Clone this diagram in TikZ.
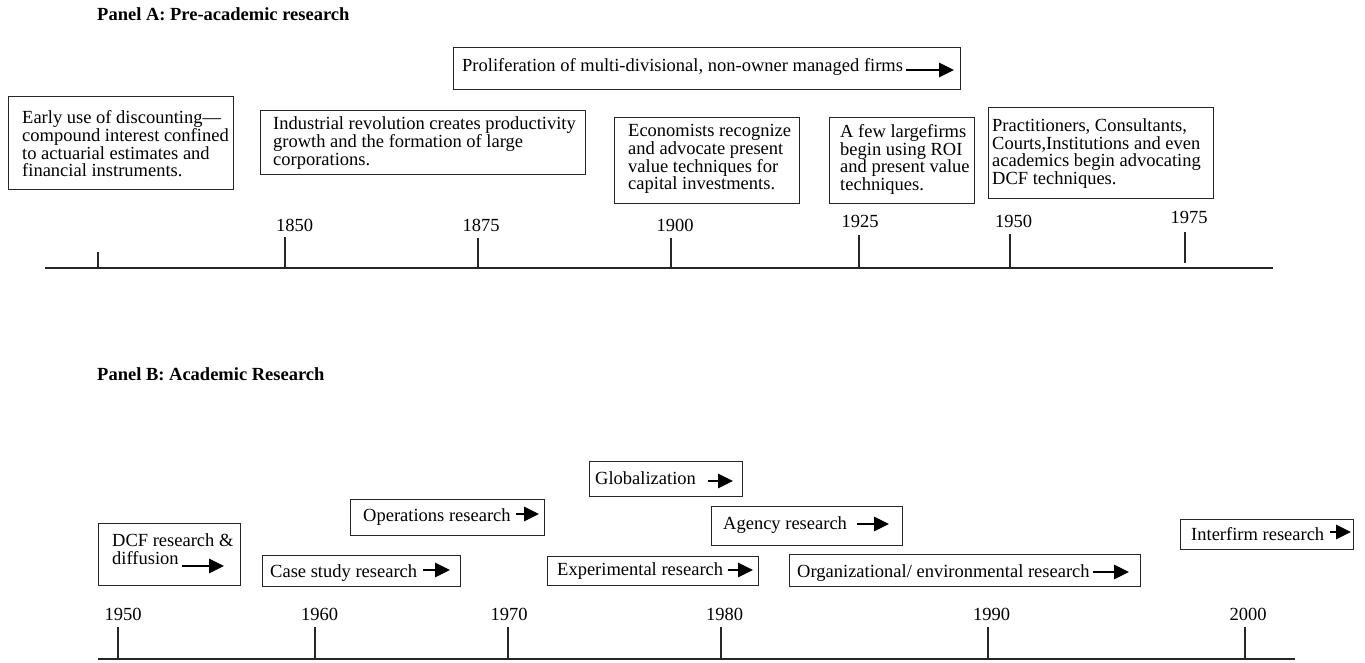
\documentclass[tikz,border=0pt]{standalone}
\usepackage{fontspec}
\setmainfont{Liberation Serif}
\usetikzlibrary{arrows.meta}
\begin{document}
\begin{tikzpicture}[x=1pt,y=-1pt,
  frame/.style={draw=black!85, line width=1.1pt, rectangle, inner sep=0pt, anchor=north west},
  txt/.style={inner sep=0pt, align=left, anchor=north west, font=\fontsize{18.5}{17.7}\selectfont},
  line/.style={inner sep=0pt, anchor=base west, font=\fontsize{18.5}{17.7}\selectfont},
  yr/.style={inner sep=0pt, anchor=base, font=\fontsize{18.5}{17.7}\selectfont},
  ttl/.style={inner sep=0pt, anchor=base west, font=\fontsize{18.5}{18}\selectfont\bfseries},
  axis/.style={draw=black!85, line width=1.3pt},
  tick/.style={draw=black!85, line width=1.1pt},
  goes/.style={draw=black, line width=1.4pt, -{Triangle[length=15pt,width=14.5pt]}}
]
\useasboundingbox (0,0) rectangle (1365,663);

% ---------------- Panel A ----------------
\node[ttl] (ttlA) at (97,21) {Panel A: Pre-academic research};

\node[frame, minimum width=225pt, minimum height=93pt] (a1) at (8,96) {};
\node[txt] (a1t) at (22,110.6) {Early use of discounting---\\compound interest confined\\to actuarial estimates and\\financial instruments.};

\node[frame, minimum width=325pt, minimum height=64pt] (a2) at (260,110) {};
\node[txt] (a2t) at (273,116.6) {Industrial revolution creates productivity\\growth and the formation of large\\corporations.};

\node[frame, minimum width=507pt, minimum height=42pt] (prolif) at (453,47) {};
\node[line] (prolift) at (462,72) {Proliferation of multi-divisional, non-owner managed firms};
\draw[goes] (906,70) -- (954,70);

\node[frame, minimum width=185pt, minimum height=86pt] (econ) at (614,117) {};
\node[txt] (econt) at (628,124.3) {Economists recognize\\and advocate present\\value techniques for\\capital investments.};

\node[frame, minimum width=145pt, minimum height=86pt] (few) at (829,117) {};
\node[txt] (fewt) at (840,124.3) {A few largefirms\\begin using ROI\\and present value\\techniques.};

\node[frame, minimum width=225pt, minimum height=91pt] (pract) at (988,107) {};
\node[txt] (practt) at (992,118.3) {Practitioners, Consultants,\\Courts,Institutions and even\\academics begin advocating\\DCF techniques.};

% timeline A
\coordinate (aL) at (45,268);
\coordinate (aR) at (1273,268);
\draw[axis] (aL) -- (aR);
\draw[tick] (98,252) -- (98,268);
\foreach \x/\t in {285/237, 478/238, 671/238, 859/235, 1010/234}
  \draw[tick] (\x,\t) -- (\x,268);
\draw[tick] (1185,232) -- (1185,263);
\node[yr] (y1850) at (294.5,231) {1850};
\node[yr] (y1875) at (481,232) {1875};
\node[yr] (y1900) at (675,232) {1900};
\node[yr] (y1925) at (860,228) {1925};
\node[yr] (y1950a) at (1013.5,227.5) {1950};
\node[yr] (y1975) at (1189,223) {1975};

% ---------------- Panel B ----------------
\node[ttl] (ttlB) at (97,380) {Panel B: Academic Research};

\node[frame, minimum width=142pt, minimum height=62pt] (dcf) at (98,523) {};
\node[txt] (dcft) at (112,533.4) {DCF research \&\\diffusion};
\draw[goes] (182,566) -- (224,566);

\node[frame, minimum width=198pt, minimum height=31pt] (case) at (262,555) {};
\node[line] (caset) at (270,577) {Case study research};
\draw[goes] (423,570) -- (450,570);

\node[frame, minimum width=194pt, minimum height=36pt] (ops) at (350,499) {};
\node[line] (opst) at (363,521) {Operations research};
\draw[goes] (516,514) -- (539,514);

\node[frame, minimum width=153pt, minimum height=35pt] (glob) at (589,461) {};
\node[line] (globt) at (595,484) {Globalization};
\draw[goes] (708,481) -- (733,481);

\node[frame, minimum width=191pt, minimum height=39pt] (agency) at (711,506) {};
\node[line] (agencyt) at (723,529) {Agency research};
\draw[goes] (857,524) -- (889,524);

\node[frame, minimum width=211pt, minimum height=29pt] (exper) at (547,556) {};
\node[line] (expert) at (557,575) {Experimental research};
\draw[goes] (728,570) -- (753,570);

\node[frame, minimum width=351pt, minimum height=32pt] (org) at (789,554) {};
\node[line] (orgt) at (797,577) {Organizational/ environmental research};
\draw[goes] (1093,572) -- (1129,572);

\node[frame, minimum width=173pt, minimum height=30pt] (inter) at (1180,519) {};
\node[line] (intert) at (1191,540) {Interfirm research};
\draw[goes] (1330,532) -- (1351,532);

% timeline B
\coordinate (bL) at (98,659);
\coordinate (bR) at (1295,659);
\draw[axis] (bL) -- (bR);
\foreach \x in {118, 315, 508, 721, 988, 1245}
  \draw[tick] (\x,627) -- (\x,659);
\node[yr] (y1950b) at (123,620) {1950};
\node[yr] (y1960) at (319.5,620) {1960};
\node[yr] (y1970) at (509,620) {1970};
\node[yr] (y1980) at (724.5,620) {1980};
\node[yr] (y1990) at (991.7,620) {1990};
\node[yr] (y2000) at (1248,620) {2000};
\end{tikzpicture}
\end{document}
